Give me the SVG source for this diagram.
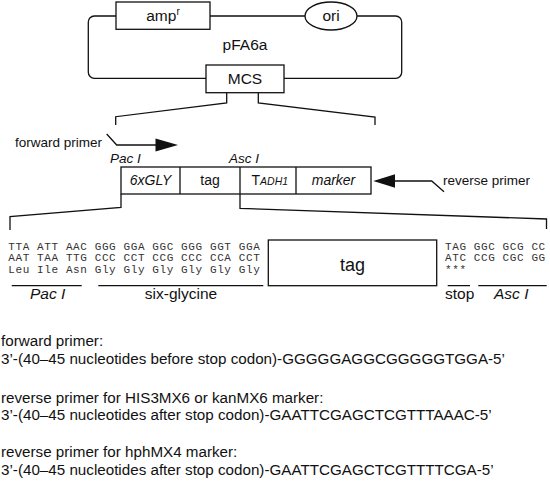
<svg xmlns="http://www.w3.org/2000/svg" width="550" height="500" viewBox="0 0 550 500">
<defs>
<style>
.ln{fill:none;stroke:#111;stroke-width:1.3}
.bx{fill:#fff;stroke:#111;stroke-width:1.3}
.ah{fill:#111;stroke:none}
text{font-family:"Liberation Sans",Arial,Helvetica,sans-serif;fill:#111}
.c{text-anchor:middle}
.it{font-style:italic}
.mono{font-family:"Liberation Mono","Courier New",monospace;font-size:11px;letter-spacing:0.6px;fill:#333}
.lb{font-size:13.5px}
.bt{font-size:15.2px}
</style>
</defs>
<rect width="550" height="500" fill="#fff"/>

<g id="connectors">
<rect class="ln" x="88.3" y="16" width="313.4" height="62.3" rx="6"/>
<path class="ln" d="M226.7,93 V103 L115.7,116.7 V125"/>
<path class="ln" d="M258.3,93 V103 L375,117 V125"/>
<path class="ln" d="M121,194 V207.3 L10,216.7 V230"/>
<path class="ln" d="M240,194 V208.3 L546.5,219 V229"/>
<path class="ln" d="M106.7,134 L116.7,145 H158"/>
<polygon class="ah" points="155.5,138.5 178,145 155.5,151.5"/>
<path class="ln" d="M394,181 H431.7 L444,191.7"/>
<polygon class="ah" points="395,174.3 373.3,181 395,187.7"/>
</g>

<g id="plasmid-label"><text class="c" x="245" y="49.5" font-size="15.5">pFA6a</text></g>
<g id="ampr">
<rect class="bx" x="116" y="2" width="94" height="27.3"/>
<text class="c" x="163" y="21" font-size="15.5">amp<tspan font-size="10" dy="-6">r</tspan></text>
</g>
<g id="ori">
<ellipse class="bx" cx="331" cy="16" rx="26" ry="14"/>
<text class="c" x="331" y="21" font-size="15.5">ori</text>
</g>
<g id="mcs">
<rect class="bx" x="206" y="65" width="78" height="27.7"/>
<text class="c" x="245" y="84" font-size="15.5">MCS</text>
</g>

<g id="forward-primer"><text class="lb" x="15" y="146.7">forward primer</text></g>
<g id="reverse-primer"><text class="lb" x="443" y="185">reverse primer</text></g>
<g id="site-labels">
<text class="lb it" x="110" y="163">Pac I</text>
<text class="lb it" x="229" y="163">Asc I</text>
</g>

<g id="cassette">
<rect class="bx" x="121" y="167" width="250" height="27"/>
<path class="ln" d="M180,167 V194 M240,167 V194 M296,167 V194"/>
<text class="c it" x="150.5" y="185" font-size="14">6xGLY</text>
<text class="c" x="210" y="185" font-size="14">tag</text>
<text x="251.5" y="185" font-size="14">T<tspan class="it" font-size="10.5">ADH1</tspan></text>
<text class="c it" x="333.5" y="185" font-size="14">marker</text>
</g>

<g id="sequence-left">
<text class="mono" x="8.3" y="249.5" xml:space="preserve">TTA ATT AAC GGG GGA GGC GGG GGT GGA</text>
<text class="mono" x="8.3" y="261" xml:space="preserve">AAT TAA TTG CCC CCT CCG CCC CCA CCT</text>
<text class="mono" x="8.3" y="272.5" xml:space="preserve">Leu Ile Asn Gly Gly Gly Gly Gly Gly</text>
<path class="ln" d="M11.7,285.7 H81.7 M98.3,285.7 H263.3"/>
<text class="it" x="30" y="299" font-size="15.5">Pac I</text>
<text class="c" x="181" y="299" font-size="15.5">six-glycine</text>
</g>

<g id="tag-box">
<rect class="bx" x="268.3" y="240" width="168.4" height="45.7"/>
<text class="c" x="352.5" y="271" font-size="18">tag</text>
</g>

<g id="sequence-right">
<text class="mono" x="445" y="249.5" xml:space="preserve">TAG GGC GCG CC</text>
<text class="mono" x="445" y="261" xml:space="preserve">ATC CCG CGC GG</text>
<text class="mono" x="445" y="272.5">***</text>
<path class="ln" d="M447.7,285.7 H470 M478.3,285.7 H546.7"/>
<text x="445" y="299" font-size="15.5">stop</text>
<text class="it" x="494" y="299" font-size="15.5">Asc I</text>
</g>

<g id="primer-sequences">
<text class="bt" x="1" y="346">forward primer:</text>
<text class="bt" x="1" y="364">3’-(40–45 nucleotides before stop codon)-GGGGGAGGCGGGGGTGGA-5’</text>
<text class="bt" x="1" y="402.7">reverse primer for HIS3MX6 or kanMX6 marker:</text>
<text class="bt" x="1" y="420">3’-(40–45 nucleotides after stop codon)-GAATTCGAGCTCGTTTAAAC-5’</text>
<text class="bt" x="1" y="457.3">reverse primer for hphMX4 marker:</text>
<text class="bt" x="1" y="475">3’-(40–45 nucleotides after stop codon)-GAATTCGAGCTCGTTTTCGA-5’</text>
</g>
</svg>
